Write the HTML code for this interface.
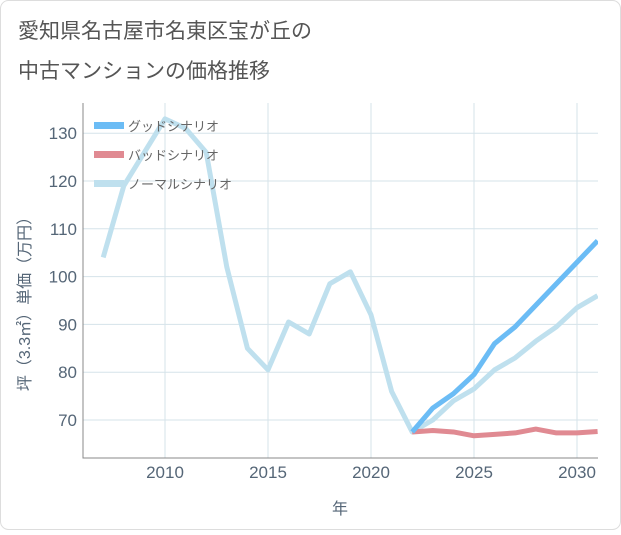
<!DOCTYPE html>
<html><head><meta charset="utf-8"><style>
body{margin:0;background:#fff;font-family:"Liberation Sans","Noto Sans CJK JP",sans-serif;}
#c{position:relative;width:621px;height:530px;}
</style></head><body>
<div id="c">
<svg id="s" width="621" height="530"></svg>
</div>
<script>
const years=[2007,2008,2009,2010,2011,2012,2013,2014,2015,2016,2017,2018,2019,2020,2021,2022,2023,2024,2025,2026,2027,2028,2029,2030,2031];
const normal=[104,119,126,133,131,126,102,85,80.5,90.5,88,98.5,101,92,76,67.5,70,74,76.5,80.5,83,86.5,89.5,93.5,96];
const goodYears=[2022,2023,2024,2025,2026,2027,2028,2029,2030,2031];
const good=[67.5,72.5,75.5,79.5,86,89.5,94,98.5,103,107.5];
const bad=[67.5,67.8,67.5,66.7,67,67.3,68.1,67.3,67.3,67.6];
const xTicks=[2010,2015,2020,2025,2030];
const yTicks=[70,80,90,100,110,120,130];
const L=83,R=598,T=103,B=458;
const X=y=>165+(y-2010)*20.6;
const Y=v=>420-(v-70)*4.78;
const s=document.getElementById('s');const NS='http://www.w3.org/2000/svg';
function el(t,a,p){const e=document.createElementNS(NS,t);for(const k in a)e.setAttribute(k,a[k]);(p||s).appendChild(e);return e;}
let t=el('rect',{x:0.5,y:0.5,width:620,height:529,rx:8,fill:'#fff',stroke:'#ddd'});

t=el('text',{x:18,y:38,'font-size':21,fill:'#555'});t.textContent='愛知県名古屋市名東区宝が丘の';

t=el('text',{x:18,y:78,'font-size':21,fill:'#555'});t.textContent='中古マンションの価格推移';

const cp=el('clipPath',{id:'cp'});el('rect',{x:L,y:T,width:R-L,height:B-T},cp);
xTicks.forEach(v=>{let g=el('line',{x1:X(v),x2:X(v),y1:T,y2:B,stroke:'#d5e3ea'});

let tx=el('text',{x:X(v),y:478,'text-anchor':'middle','font-size':17,fill:'#556677'});tx.textContent=v;
});
yTicks.forEach(v=>{let g=el('line',{x1:L,x2:R,y1:Y(v),y2:Y(v),stroke:'#d5e3ea'});

let tx=el('text',{x:77,y:Y(v)+6,'text-anchor':'end','font-size':17,fill:'#556677'});tx.textContent=v;
});
t=el('path',{d:`M${L},${T}V${B}H${R}`,fill:'none',stroke:'#888'});

function line(xs,vs,col,name){const p=el('polyline',{points:xs.map((y,i)=>X(y)+','+Y(vs[i])).join(' '),fill:'none',stroke:col,'stroke-width':5,'stroke-linejoin':'round','clip-path':'url(#cp)'});
}
line(years,normal,'#bfe0ee','normal-scenario-line');
line(goodYears,bad,'#e08a92','bad-scenario-line');
line(goodYears,good,'#6bbcf5','good-scenario-line');
[['グッドシナリオ','#6bbcf5'],['バッドシナリオ','#e08a92'],['ノーマルシナリオ','#bfe0ee']].forEach((d,i)=>{
const y=126+i*29;const g=el('g',{});
el('rect',{x:94,y:y-4,width:30,height:7,fill:d[1]},g);
const tx=el('text',{x:128,y:y+5,'font-size':13,fill:'#666'},g);tx.textContent=d[0];});
t=el('text',{x:340,y:514,'text-anchor':'middle','font-size':16,fill:'#556677'});t.textContent='年';

t=el('text',{x:0,y:0,'text-anchor':'middle','font-size':16,fill:'#556677',transform:'translate(30,300) rotate(-90)'});t.textContent='坪（3.3㎡）単価（万円）';

</script>
</body></html>
